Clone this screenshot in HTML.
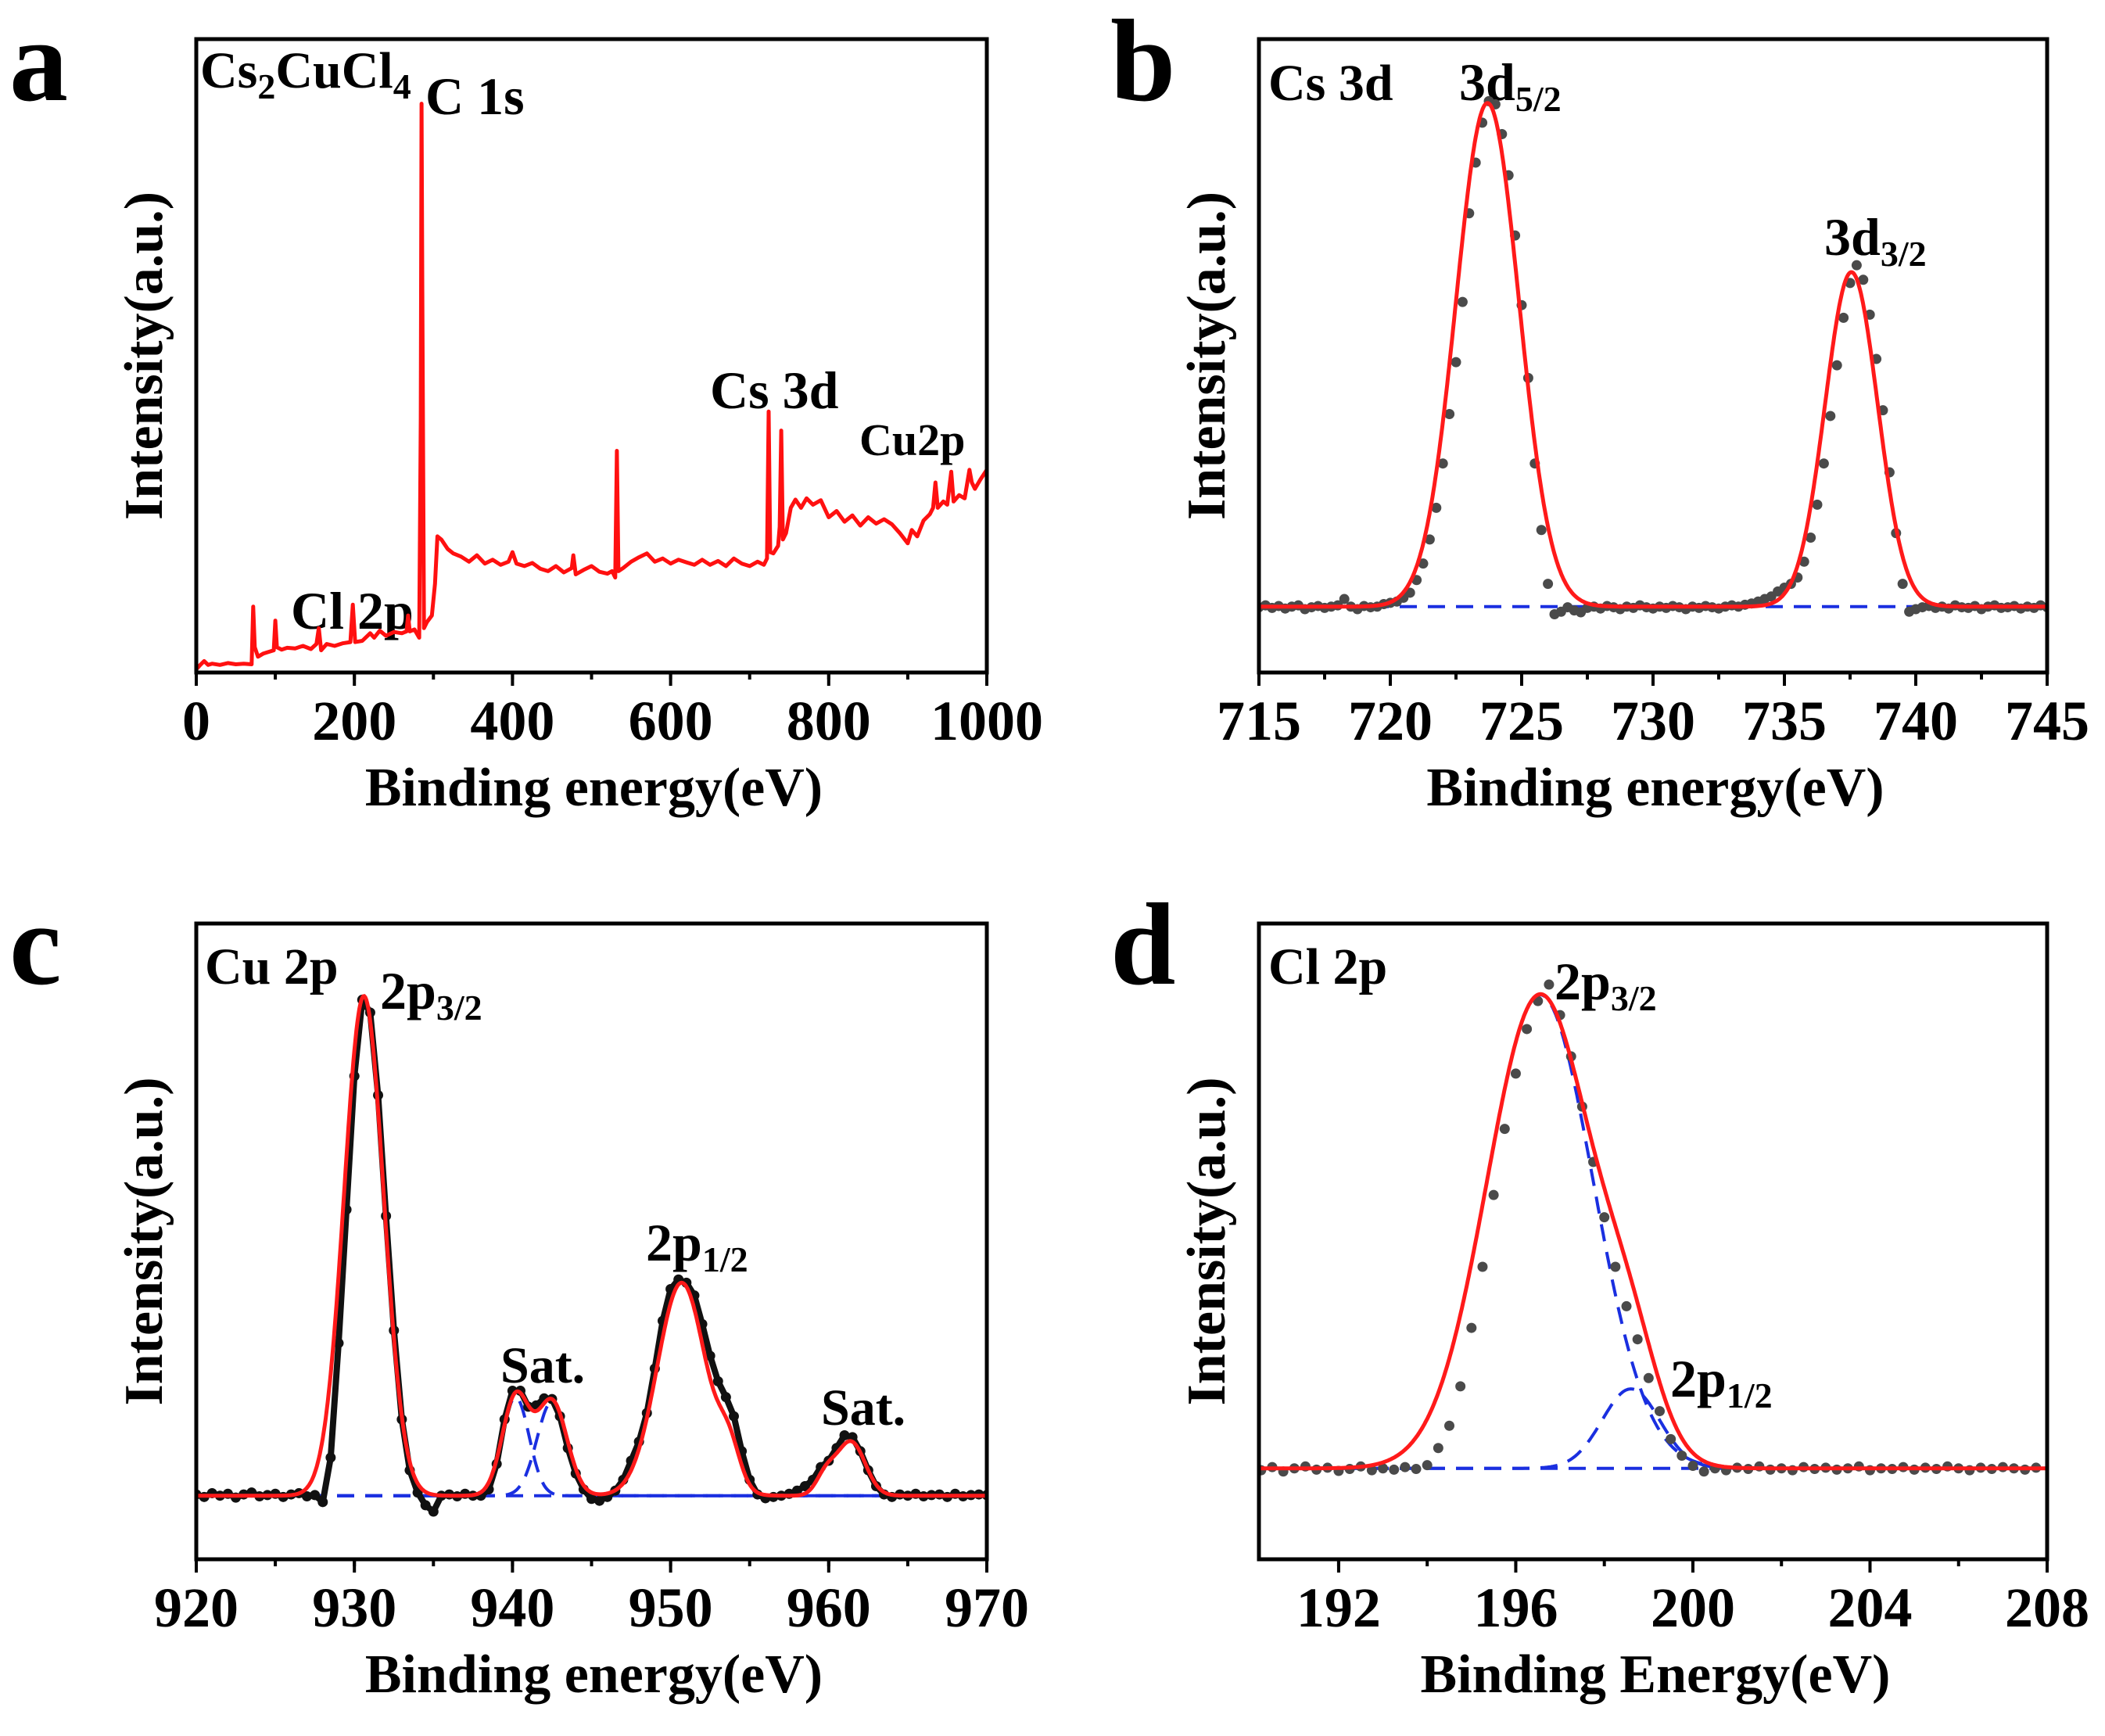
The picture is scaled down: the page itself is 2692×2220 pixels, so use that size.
<!DOCTYPE html>
<html><head><meta charset="utf-8">
<style>
html,body{margin:0;padding:0;background:#fff;}
svg{display:block;}
text{font-family:"Liberation Serif","DejaVu Serif",serif;font-weight:bold;fill:#000;}
</style></head>
<body>
<svg id="fig" width="2692" height="2220" viewBox="0 0 2692 2220" xmlns="http://www.w3.org/2000/svg">
<rect x="0" y="0" width="2692" height="2220" fill="#fff"/>
<text x="12" y="128" font-size="150">a</text>
<text x="1420" y="128" font-size="150">b</text>
<text x="12" y="1258" font-size="150">c</text>
<text x="1420" y="1258" font-size="150">d</text>
<text x="256" y="112" font-size="66">Cs<tspan font-size="46" dy="14">2</tspan><tspan dy="-14">CuCl</tspan><tspan font-size="46" dy="14">4</tspan></text>
<text x="544" y="146" font-size="68">C 1s</text>
<text x="372" y="804" font-size="68">Cl 2p</text>
<text x="908" y="522" font-size="68">Cs 3d</text>
<text x="1099" y="582" font-size="58">Cu2p</text>
<text x="1622" y="128" font-size="66">Cs 3d</text>
<text x="1866" y="128" font-size="68">3d<tspan font-size="46" dy="14">5/2</tspan></text>
<text x="2333" y="326" font-size="68">3d<tspan font-size="46" dy="14">3/2</tspan></text>
<text x="262" y="1258" font-size="66">Cu 2p</text>
<text x="486" y="1290" font-size="68">2p<tspan font-size="46" dy="14">3/2</tspan></text>
<text x="826" y="1612" font-size="68">2p<tspan font-size="46" dy="14">1/2</tspan></text>
<text x="640" y="1768" font-size="66">Sat.</text>
<text x="1050" y="1822" font-size="66">Sat.</text>
<text x="1622" y="1258" font-size="66">Cl 2p</text>
<text x="1988" y="1278" font-size="68">2p<tspan font-size="46" dy="14">3/2</tspan></text>
<text x="2136" y="1786" font-size="68">2p<tspan font-size="46" dy="14">1/2</tspan></text>
</svg>
<script>
// ---------- Panel a: survey ----------
const aX = [0,5,10,15,20,30,40,50,60,70,
72,74,78,85,90,98,100,102,108,115,
125,135,145,152,155,158,165,175,185,195,
198,201,210,220,225,232,240,250,260,266,
268,270,276,282,284,285,286,288,292,298,
302,305,310,318,325,335,345,355,365,375,
385,395,400,405,415,425,435,445,455,465,
475,477,480,490,500,510,520,526,530,532,
534,540,550,560,570,580,590,600,610,620,
630,640,650,660,670,680,690,700,710,718,
722,724,726,730,736,738,740,742,746,752,
758,765,772,780,790,800,810,820,830,840,
850,860,870,880,890,900,905,912,920,928,
932,935,938,945,950,955,958,965,972,978,
981,985,992,1000];
const aY = [0.5,1.2,1.8,1.2,1.4,1.2,1.5,1.3,1.4,1.3,
10.4,4,2.5,3,3.2,3.5,8.2,4,3.6,3.9,
3.8,4.2,3.7,4.5,7,3.5,4.5,4.2,4.6,4.8,
10.7,4.8,5,6.2,5.5,6.6,5.8,6.4,6.2,6.5,
9,6.5,6.8,5.5,40,89.8,60,7,8,9,
14,21.5,21,19.5,18.8,18.3,17.5,18.5,17.2,17.8,
17,17.5,19,17.2,16.8,17.3,16.4,16,16.8,15.8,
16.5,18.5,15.5,16.2,16.8,15.9,15.6,16,15,35,
16,16.5,17.5,18.2,18.8,17.5,18,17.2,17.8,17.4,
17,17.8,17,17.6,16.8,18,17.2,16.8,17.5,17,
18,41.2,19,18.8,20,23,38.2,21,22,26,
27.3,26,27.5,26.5,27.2,24.5,25.5,23.8,24.8,23.2,
24.5,23.5,24.2,23.4,22,20.4,22.5,21.5,24,25,
26,30,26,27,26.5,31.7,27,28,27.5,32,
30,29,30.5,32];
const aTicks = [0,200,400,600,800,1000];

// ---------- Panel b: Cs 3d ----------
const bDotStart = 715, bDotStep = 0.25;
const bDots = [
10.3,10.6,10.2,10.5, 10.1,10.4,10.6,10.0, 10.3,10.5,10.2,10.4, 10.6,11.6,10.4,10.0,
10.5,10.3,10.4,10.8, 11.0,11.2,11.8,12.6, 14.6,17.2,21.0,26.0, 33.0,40.8,49.0,58.5,
72.5,80.5,86.8,90.2, 89.7,85.0,78.5,69.0, 58.0,46.5,33.0,22.5, 14.0,9.2,9.6,10.3,
9.8,9.5,10.2,10.4, 10.1,10.5,10.3,10.0, 10.4,10.2,10.6,10.3, 10.1,10.4,10.2,10.5,
10.3,10.0,10.4,10.2, 10.5,10.3,10.1,10.4, 10.6,10.4,10.7,10.9, 11.2,11.6,12.0,12.8,
13.4,14.0,15.0,17.5, 21.3,26.5,33.0,40.5, 48.5,56.0,61.5,64.3, 62.0,56.5,49.5,41.4,
31.6,22.0,14.0,9.6, 10.0,10.3,10.5,10.2, 10.4,10.1,10.6,10.3, 10.2,10.5,10.0,10.4,
10.6,10.2,10.3,10.5, 10.1,10.4,10.2,10.6, 10.3];
const bBase = 10.4;
const bPeakCenter = [723.7, 737.55];
const bPeakHeight = [79.5, 52.8];
const bPeakSigma = [1.2, 1.0];
const bTicks = [715,720,725,730,735,740,745];

// ---------- Panel c: Cu 2p ----------
const cDotStart = 920, cDotStep = 0.5;
const cDots = [
10.2,9.8,10.4,10.0,10.3,9.7,10.2,10.5,9.9,10.1,
10.3,9.8,10.2,10.4,9.9,10.1,9.0,16,34,55,
76,88,86,73,54,36,22,14,10.5,8.5,
7.5,10,10.2,9.9,10.3,10.0,10.0,11,15,22,
26.5,26.5,24,24.2,25.3,25.2,22.5,17.5,13.5,11,
9.5,9.2,9.8,10.8,12.5,15.5,18.5,23,30,37.5,
42.5,44,43.5,41.5,37,32,28,25.5,22.5,17,
12.5,10.2,9.6,9.8,10,10.3,10.8,11.5,12.5,14.5,
15.5,17.5,19.5,19.2,17,14,11.5,10.2,9.8,10.2,
10.0,10.3,9.9,10.1,10.2,9.8,10.3,9.9,10.1,10.2,
10.1];
const cBase = 10.0;
const cPeakCenter = [930.6, 940.2, 942.5, 950.7, 953.7, 959.8, 961.4];
const cPeakHeight = [78.6, 15.5, 14.8, 33.5, 6.0, 3.0, 8.5];
const cPeakSigma = [1.25, 0.85, 0.95, 1.55, 0.7, 0.6, 0.9];
const cDashedComps = [1, 2];
const cTicks = [920,930,940,950,960,970];

// ---------- Panel d: Cl 2p ----------
const dDotStart = 190.25, dDotStep = 0.25;
const dDots = [
14.0,14.5,13.8,14.3, 14.6,14.1,14.4,13.9, 14.2,14.6,14.0,14.3, 14.1,14.5,14.2,
14.8,17.5,21.0,27.2, 36.4,46.0,57.3,67.7, 76.4,83.4,87.8,90.4, 85.6,79.1,71.2,62.5,
53.8,46.0,39.8,34.6, 28.5,23.3,18.9,16.3, 14.7,13.8,14.3,14.0, 14.4,14.2,14.6,14.1,
14.3,14.0,14.5,14.2, 14.4,14.1,14.3,14.6, 14.0,14.3,14.2,14.5, 14.1,14.4,14.2,14.6,
14.3,14.0,14.4,14.2, 14.5,14.3,14.1,14.4];
const dBase = 14.3;
const dPeakCenter = [196.55, 198.6];
const dPeakHeight = [74.5, 12.5];
const dPeakSigma = [1.2, 0.65];
const dDashedComps = [0, 1];
const dTicks = [192,196,200,204,208];

const NS = 'http://www.w3.org/2000/svg';
const svg = document.getElementById('fig');
function mk(tag, attrs, parent){
  const e = document.createElementNS(NS, tag);
  for (const k in attrs) e.setAttribute(k, attrs[k]);
  (parent||svg).appendChild(e);
  return e;
}
function gauss(x, c, h, s){ return h*Math.exp(-(x-c)*(x-c)/(2*s*s)); }

function panel(id, L, R, T, B, xmin, xmax, ticks, minorStep, xTitle){
  const g = mk('g', {});
  
  
  const sx = v => L + (v - xmin)/(xmax - xmin)*(R - L);
  const sy = p => B - p/100*(B - T);
  const cp = mk('clipPath', {id:'clip-'+id}, g);
  mk('rect', {x:L, y:T, width:R-L, height:B-T}, cp);
  const plot = mk('g', {'clip-path':'url(#clip-'+id+')'}, g);
  
  
  const fr = mk('rect', {x:L, y:T, width:R-L, height:B-T, fill:'none', stroke:'#000', 'stroke-width':5}, g);
  
  
  const m0 = Math.ceil(xmin/minorStep)*minorStep;
  for (let v = m0; v <= xmax + 1e-9; v += minorStep){
    const t = mk('line', {x1:sx(v), x2:sx(v), y1:B, y2:B+9, stroke:'#000', 'stroke-width':4}, g);
    
    
  }
  ticks.forEach(v => {
    const t = mk('line', {x1:sx(v), x2:sx(v), y1:B, y2:B+17, stroke:'#000', 'stroke-width':4}, g);
    
    
    const lb = mk('text', {x:sx(v), y:B+86, 'font-size':72, 'text-anchor':'middle'}, g);
    
    
    lb.textContent = String(v);
  });
  const xt = mk('text', {x:(L+R)/2 + 3, y:B+170, 'font-size':70, 'text-anchor':'middle'}, g);
  
  
  xt.textContent = xTitle;
  const yx = L - 44, yy = (T+B)/2;
  const yt = mk('text', {x:yx, y:yy, 'font-size':70, 'text-anchor':'middle', transform:'rotate(-90 '+yx+' '+yy+')'}, g);
  
  
  yt.textContent = 'Intensity(a.u.)';
  return {sx, sy, plot};
}
function pathD(pts){ return pts.map((p,i)=>(i?'L':'M')+p[0].toFixed(1)+' '+p[1].toFixed(1)).join(' '); }

function fitPanel(P, xmin, xmax, base, cen, hts, sig, dashed, dotStart, dotStep, dots, dotColor, joinDots){
  const bl = mk('line', {x1:P.sx(xmin), x2:P.sx(xmax), y1:P.sy(base), y2:P.sy(base), stroke:'#1a2fe0', 'stroke-width':4, 'stroke-dasharray':'22 14'}, P.plot);
  
  
  dashed.forEach(k => {
    const pts = [];
    for (let x = xmin; x <= xmax; x += (xmax-xmin)/600) pts.push([P.sx(x), P.sy(base + gauss(x, cen[k], hts[k], sig[k]))]);
    const c = mk('path', {d:pathD(pts), fill:'none', stroke:'#1a2fe0', 'stroke-width':4, 'stroke-dasharray':'22 14'}, P.plot);
    
    
  });
  const dg = mk('g', {fill:dotColor}, P.plot);
  
  
  if (joinDots){
    const jl = mk('path', {d:pathD(dots.map((v,i)=>[P.sx(dotStart+i*dotStep), P.sy(v)])), fill:'none', stroke:dotColor, 'stroke-width':8, 'stroke-linejoin':'round'}, dg);
    
    
  }
  dots.forEach((v,i) => {
    const x = dotStart + i*dotStep;
    const c = mk('circle', {cx:P.sx(x), cy:P.sy(v), r:6.5}, dg);
    
    
  });
  const pts = [];
  for (let x = xmin; x <= xmax; x += (xmax-xmin)/800){
    let y = base;
    for (let k = 0; k < cen.length; k++) y += gauss(x, cen[k], hts[k], sig[k]);
    pts.push([P.sx(x), P.sy(y)]);
  }
  const f = mk('path', {d:pathD(pts), fill:'none', stroke:'#ff1a1a', 'stroke-width':5}, P.plot);
  
  
}

const Pa = panel('a', 251, 1262, 50, 860, 0, 1000, aTicks, 100, 'Binding energy(eV)');
const aLine = mk('path', {d:pathD(aX.map((x,i)=>[Pa.sx(x), Pa.sy(aY[i])])), fill:'none', stroke:'#ff1010', 'stroke-width':5, 'stroke-linejoin':'round'}, Pa.plot);



const Pb = panel('b', 1610, 2618, 50, 860, 715, 745, bTicks, 2.5, 'Binding energy(eV)');
fitPanel(Pb, 715, 745, bBase, bPeakCenter, bPeakHeight, bPeakSigma, [], bDotStart, bDotStep, bDots, '#4a4a4a', false);

const Pc = panel('c', 251, 1262, 1181, 1994, 920, 970, cTicks, 5, 'Binding energy(eV)');
fitPanel(Pc, 920, 970, cBase, cPeakCenter, cPeakHeight, cPeakSigma, cDashedComps, cDotStart, cDotStep, cDots, '#111', true);

const Pd = panel('d', 1610, 2618, 1181, 1994, 190.2, 208, dTicks, 2, 'Binding Energy(eV)');
fitPanel(Pd, 190.2, 208, dBase, dPeakCenter, dPeakHeight, dPeakSigma, dDashedComps, dDotStart, dDotStep, dDots, '#4a4a4a', false);
</script>
</body></html>
